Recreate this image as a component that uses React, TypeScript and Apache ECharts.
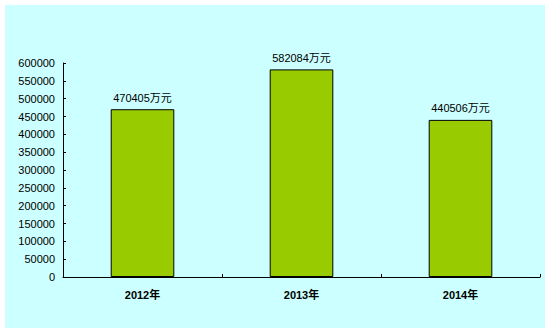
import React, { useEffect, useRef } from "react";
import * as echarts from "echarts";

const categories = ["2012年", "2013年", "2014年"];
const values = [470405, 582084, 440506];
const unit = "万元";

export default function App() {
  const ref = useRef<HTMLDivElement>(null);
  useEffect(() => {
    document.body.style.margin = "0";
    const chart = echarts.init(ref.current!, null, { renderer: "svg" });
    const font = "'Liberation Sans', 'Noto Sans CJK SC', sans-serif";
    chart.setOption({
      animation: false,
      backgroundColor: "transparent",
      textStyle: { fontFamily: font },
      grid: { left: 63, top: 63, right: 11, bottom: 56 },
      xAxis: {
        type: "category",
        data: categories,
        boundaryGap: true,
        axisLine: { lineStyle: { color: "#000", width: 1 } },
        axisTick: { show: true, inside: true, length: 3, lineStyle: { color: "#000" } },
        axisLabel: { color: "#000", fontSize: 11, fontWeight: "bold", margin: 12, fontFamily: font },
      },
      yAxis: {
        type: "value",
        min: 0,
        max: 600000,
        interval: 50000,
        splitLine: { show: false },
        axisLine: { show: true, lineStyle: { color: "#000", width: 1 } },
        axisTick: { show: true, inside: true, length: 3, lineStyle: { color: "#000" } },
        axisLabel: { color: "#000", fontSize: 11, margin: 8, fontFamily: font, formatter: (v: number) => String(v) },
      },
      series: [
        {
          type: "bar",
          data: values,
          barWidth: "40%",
          itemStyle: { color: "#99CC00", borderColor: "#000", borderWidth: 1 },
          label: {
            show: true,
            position: "top",
            distance: 6,
            color: "#000",
            fontSize: 11,
            fontFamily: font,
            formatter: (p: any) => `${p.value}${unit}`,
          },
        },
      ],
    });
    return () => chart.dispose();
  }, []);
  return (
    <div style={{ position: "relative", width: 551, height: 333, background: "#fff" }}>
      <div style={{ position: "absolute", left: 5, top: 5, width: 540, height: 323, background: "#CCFFFF" }} />
      <div ref={ref} style={{ position: "absolute", left: 0, top: 0, width: 551, height: 333 }} />
    </div>
  );
}
